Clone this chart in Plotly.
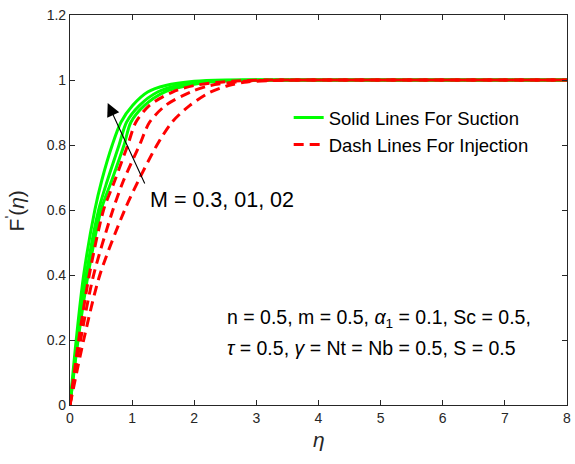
import plotly.graph_objects as go

# Velocity profiles F'(eta) read for the three values of M
# Suction (solid green)
eta_s1 = [0, 0.10, 0.22, 0.40, 0.51, 0.68, 0.82, 1.01, 1.25, 1.54, 2.0, 2.5, 3.0, 4, 5, 6, 7, 8]
fp_s1 = [0, 0.20, 0.40, 0.60, 0.69, 0.80, 0.87, 0.922, 0.963, 0.983, 0.996, 1.0, 1.0, 1.0, 1.0, 1.0, 1.0, 1.0]

eta_s2 = [0, 0.12, 0.26, 0.46, 0.60, 0.79, 0.91, 1.12, 1.41, 1.73, 2.2, 2.8, 3.2, 4, 5, 6, 7, 8]
fp_s2 = [0, 0.20, 0.40, 0.60, 0.69, 0.80, 0.87, 0.922, 0.963, 0.983, 0.996, 1.0, 1.0, 1.0, 1.0, 1.0, 1.0, 1.0]

eta_s3 = [0, 0.13, 0.29, 0.50, 0.67, 0.87, 0.98, 1.20, 1.52, 1.89, 2.4, 3.0, 3.5, 4, 5, 6, 7, 8]
fp_s3 = [0, 0.20, 0.40, 0.60, 0.69, 0.80, 0.87, 0.922, 0.963, 0.983, 0.996, 1.0, 1.0, 1.0, 1.0, 1.0, 1.0, 1.0]

# Injection (dashed red)
eta_i1 = [0, 0.14, 0.31, 0.54, 0.72, 0.93, 1.06, 1.28, 1.65, 2.0, 2.5, 3.2, 4, 5, 6, 7, 8]
fp_i1 = [0, 0.20, 0.40, 0.60, 0.69, 0.80, 0.87, 0.922, 0.963, 0.983, 0.995, 1.0, 1.0, 1.0, 1.0, 1.0, 1.0]

eta_i2 = [0, 0.17, 0.38, 0.69, 0.86, 1.12, 1.28, 1.54, 1.94, 2.26, 2.8, 3.4, 4, 5, 6, 7, 8]
fp_i2 = [0, 0.20, 0.40, 0.60, 0.69, 0.80, 0.87, 0.922, 0.963, 0.983, 0.996, 1.0, 1.0, 1.0, 1.0, 1.0, 1.0]

eta_i3 = [0, 0.22, 0.48, 0.88, 1.10, 1.40, 1.64, 1.93, 2.24, 2.55, 2.85, 3.4, 4.0, 5, 6, 7, 8]
fp_i3 = [0, 0.20, 0.40, 0.60, 0.69, 0.80, 0.87, 0.922, 0.961, 0.983, 0.994, 0.999, 1.0, 1.0, 1.0, 1.0, 1.0]

x_ticks = [0, 1, 2, 3, 4, 5, 6, 7, 8]
y_ticks = [0, 0.2, 0.4, 0.6, 0.8, 1.0, 1.2]
y_tick_text = ["0", "0.2", "0.4", "0.6", "0.8", "1", "1.2"]

legend_names = ["Solid Lines For Suction", "Dash Lines For Injection"]

FONT = "Liberation Sans, Arial, sans-serif"
AXIS_COLOR = "#262626"
GREEN = "#00ff00"
RED = "#ff0000"

fig = go.Figure()

suction = [(eta_s1, fp_s1), (eta_s2, fp_s2), (eta_s3, fp_s3)]
injection = [(eta_i1, fp_i1), (eta_i2, fp_i2), (eta_i3, fp_i3)]

for k, (xs, ys) in enumerate(suction):
    fig.add_trace(go.Scatter(
        x=xs, y=ys, mode="lines",
        line=dict(color=GREEN, width=3, shape="spline", smoothing=0.8),
        name=legend_names[0], showlegend=(k == 0),
    ))

for k, (xs, ys) in enumerate(injection):
    fig.add_trace(go.Scatter(
        x=xs, y=ys, mode="lines",
        line=dict(color=RED, width=3, dash="10px,6px", shape="spline", smoothing=0.8),
        name=legend_names[1], showlegend=(k == 0),
    ))

axis_common = dict(
    showgrid=False, zeroline=False,
    showline=True, linecolor=AXIS_COLOR, linewidth=1.2,
    mirror="ticks", ticks="inside", ticklen=5, tickwidth=1, tickcolor=AXIS_COLOR,
    tickfont=dict(family=FONT, size=14, color=AXIS_COLOR),
    ticklabeloverflow="allow",
)

fig.update_xaxes(range=[0, 8], tickvals=x_ticks, **axis_common)
fig.update_yaxes(range=[0, 1.2], tickvals=y_ticks, ticktext=y_tick_text, **axis_common)

# Arrow indicating increasing M
arrow_head = (0.607, 0.929)
arrow_tail = (1.214, 0.677)

annotations = [
    dict(x=arrow_head[0], y=arrow_head[1], ax=arrow_tail[0], ay=arrow_tail[1],
         xref="x", yref="y", axref="x", ayref="y", text="",
         showarrow=True, arrowhead=2, arrowsize=2.4, arrowwidth=1.1, arrowcolor="#000000"),
    dict(x=1.26, y=0.63, xref="x", yref="y", xanchor="left", yanchor="middle",
         text="M = 0.3, 01, 02", showarrow=False,
         font=dict(family=FONT, size=21.5, color="#000000")),
    dict(x=2.5, y=(405 - 318) / 325, xref="x", yref="y", xanchor="left", yanchor="middle",
         text="n = 0.5, m = 0.5, <i>α</i><sub>1</sub> = 0.1, Sc = 0.5,", showarrow=False,
         font=dict(family=FONT, size=19.5, color="#000000")),
    dict(x=2.5, y=(405 - 348) / 325, xref="x", yref="y", xanchor="left", yanchor="middle",
         text="<i>τ</i> = 0.5, <i>γ</i> = Nt = Nb = 0.5, S = 0.5", showarrow=False,
         font=dict(family=FONT, size=19.5, color="#000000")),
    dict(x=(15 - 70) / 501, y=(405 - 211) / 390, xref="paper", yref="paper",
         xanchor="center", yanchor="middle", textangle=-90,
         text="F<sup>'</sup>(<i>η</i>)", showarrow=False,
         font=dict(family=FONT, size=21, color=AXIS_COLOR)),
    dict(x=0.5, y=(405 - 440) / 390, xref="paper", yref="paper",
         xanchor="center", yanchor="middle",
         text="<i>η</i>", showarrow=False,
         font=dict(family=FONT, size=21, color=AXIS_COLOR)),
]

fig.update_layout(
    width=575, height=464,
    margin=dict(l=70, r=4, t=15, b=59),
    paper_bgcolor="white", plot_bgcolor="white",
    showlegend=True,
    legend=dict(x=0.44, y=0.785, xanchor="left", yanchor="top",
                bgcolor="rgba(255,255,255,0)", borderwidth=0,
                font=dict(family=FONT, size=18.5, color="#000000"),
                tracegroupgap=0),
    annotations=annotations,
)

fig.write_html("out.html")
